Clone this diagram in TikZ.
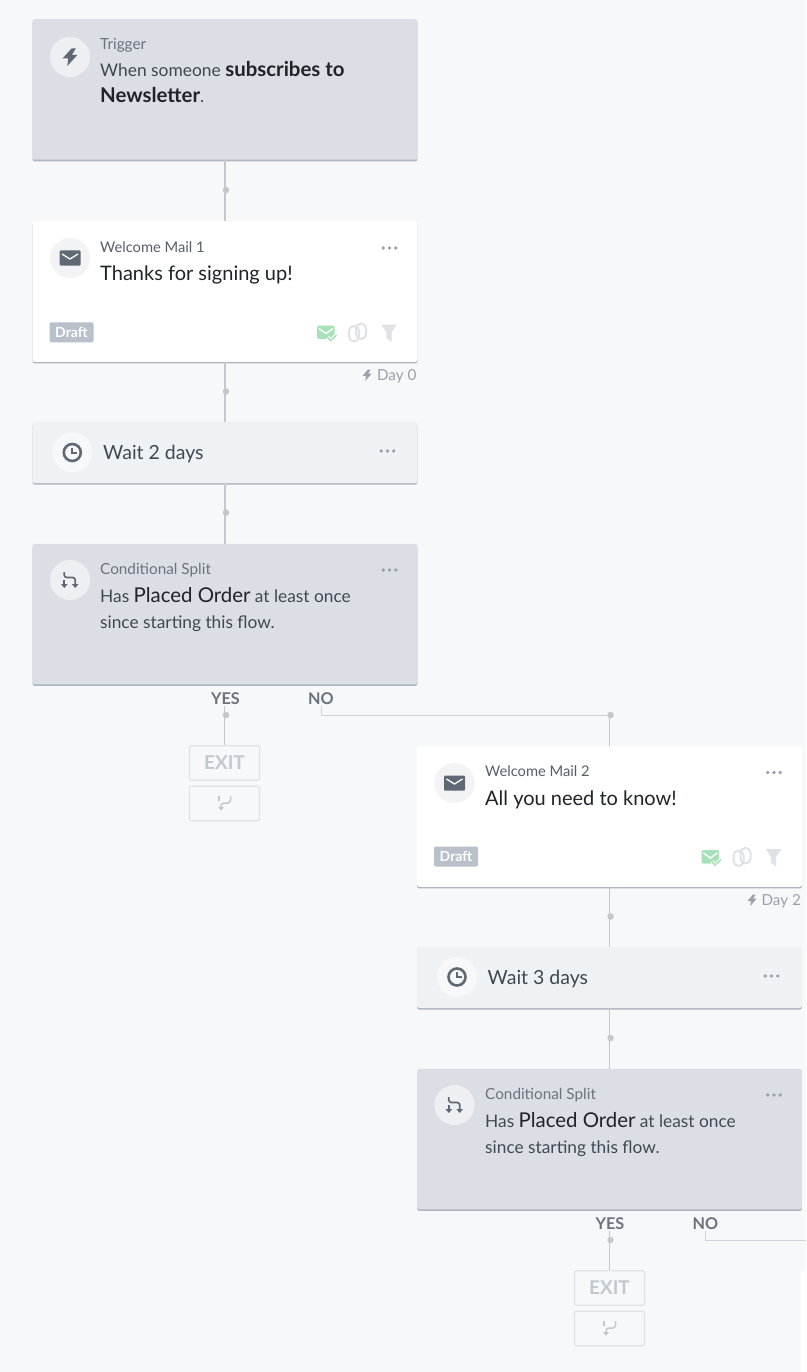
\documentclass[tikz,border=0pt]{standalone}
\usepackage{fontspec}
\setmainfont{Lato}
\usetikzlibrary{arrows.meta}
\usetikzlibrary{shadows}
\definecolor{pagebg}{HTML}{F7F8FA}
\definecolor{splitbg}{HTML}{DBDFE5}
\definecolor{waitbg}{HTML}{EEF2F4}
\definecolor{cardedge}{HTML}{AEB5BF}
\definecolor{linkgray}{HTML}{C3C8CF}
\definecolor{labelgray}{HTML}{6A737D}
\definecolor{mailgray}{HTML}{575F69}
\definecolor{bodygray}{HTML}{3F4851}
\definecolor{inkgray}{HTML}{1F2428}
\definecolor{icongray}{HTML}{5F6873}
\definecolor{dotgray}{HTML}{9AA1AA}
\definecolor{tintgray}{HTML}{DFE2E6}
\definecolor{exitgray}{HTML}{C2C8CF}
\definecolor{draftgray}{HTML}{B9C0C9}
\definecolor{okgreen}{HTML}{A6E1B7}
\newcommand{\boldpart}[1]{\textcolor{inkgray}{\bfseries\fontsize{20.4}{20}\selectfont #1}}
\newcommand{\orderpart}{\textcolor{inkgray}{\fontsize{20.4}{20}\selectfont Placed Order}}
\tikzset{
  card/.style={rounded corners=2pt,inner sep=0pt,minimum width=384.6pt,general shadow={shadow yshift=-1.6pt,fill=cardedge}},
  splitcard/.style={card,fill=splitbg,minimum height=140.5pt},
  mailcard/.style={card,fill=white,minimum height=140.5pt},
  waitcard/.style={card,fill=waitbg,minimum height=61pt},
  badge/.style={circle,inner sep=0pt,minimum size=40pt},
  flowdot/.style={circle,fill=linkgray,inner sep=0pt,minimum size=6.5pt},
  link/.style={draw=linkgray,line width=1.4pt},
  thinlink/.style={draw=linkgray!80,line width=1pt},
  smalltxt/.style={anchor=base west,inner sep=0pt,text=labelgray,font=\fontsize{15.3}{16}\selectfont},
  mailtxt/.style={anchor=base west,inner sep=0pt,text=mailgray,font=\fontsize{14.7}{16}\selectfont},
  bodytxt/.style={anchor=base west,inner sep=0pt,text=bodygray,font=\fontsize{17.4}{20}\selectfont},
  headtxt/.style={anchor=base west,inner sep=0pt,text=inkgray,font=\fontsize{20}{20}\selectfont},
  waittxt/.style={anchor=base west,inner sep=0pt,text=bodygray,font=\fontsize{19.5}{20}\selectfont},
  condtxt/.style={anchor=base west,inner sep=0pt,text=bodygray,font=\fontsize{17.3}{20}\selectfont},
  daytxt/.style={anchor=base east,inner sep=0pt,text=dotgray,font=\fontsize{15.2}{16}\selectfont},
  branchtxt/.style={inner sep=1pt,text=labelgray,font=\bfseries\fontsize{16.2}{18}\selectfont},
  draftbox/.style={fill=draftgray,text=white,rounded corners=2pt,inner sep=0pt,minimum width=44pt,minimum height=20pt,font=\bfseries\fontsize{14}{16}\selectfont},
  exitbox/.style={draw=tintgray,line width=1.2pt,rounded corners=2pt,inner sep=0pt,minimum width=70pt,minimum height=34.5pt,text=exitgray,font=\bfseries\fontsize{19}{20}\selectfont},
  pics/boltmark/.style={code={
    \fill[icongray] (1.7,-8.7) -- (-7.3,1.3) -- (-1.7,1.3) -- (-2.7,9) -- (7.3,-2) -- (1.7,-2) -- (6,-8.7) -- cycle;
  }},
  pics/daybolt/.style={code={
    \fill[dotgray] (1,-5.5) -- (-4.5,1) -- (-1,1) -- (-1.7,6) -- (4.5,-1.3) -- (1,-1.3) -- (3.7,-5.5) -- cycle;
  }},
  pics/mailmark/.style={code={
    \fill[icongray,rounded corners=1pt] (-10.5,-7.5) rectangle (10.5,7.5);
    \draw[white,line width=1.3pt] (-8,-4) -- (0,1) -- (8,-4);
  }},
  pics/clockmark/.style={code={
    \draw[icongray,line width=2.6pt] (0,0) circle (8.5pt);
    \draw[icongray,line width=2pt] (0,-5) -- (0,0) -- (5,0);
  }},
  pics/splitmark/.style={code={
    \draw[icongray,line width=1.7pt,-{Triangle[width=6.5pt,length=4pt]},rounded corners=2.5pt] (-5.7,-8) -- (-5.7,-2.5) -- (5.2,-2.5) -- (5.2,8);
    \draw[icongray,line width=1.7pt,-{Triangle[width=6.5pt,length=4pt]}] (-5.7,0) -- (-5.7,8);
  }},
  pics/returnmark/.style={code={
    \draw[exitgray,line width=1.5pt,-{Triangle[width=6pt,length=3.5pt]},rounded corners=3pt] (6,-7.5) -- (6,-0.5) -- (-3.5,-0.5) -- (-3.5,7);
    \draw[exitgray,line width=1.5pt] (-5.5,-7.5) -- (-5.5,-3);
  }},
  pics/okmailmark/.style={code={
    \fill[okgreen,rounded corners=1.5pt] (-9,-7.5) rectangle (8.7,6);
    \draw[white,line width=1.4pt] (-7,-4.5) -- (0,0.5) -- (7,-4.5);
    \draw[white,line width=3.6pt] (1.5,4) -- (4.5,7.5) -- (10.5,2);
    \draw[okgreen,line width=1.5pt] (1.5,4) -- (4.5,7.5) -- (10.5,2);
  }},
  pics/clipmark/.style={code={
    \draw[tintgray,line width=2pt,rounded corners=5pt] (-8.5,-6.5) rectangle (1.5,9);
    \draw[tintgray,line width=2pt,rounded corners=5pt] (-1.5,-9) rectangle (8.5,6.5);
  }},
  pics/funnelmark/.style={code={
    \fill[tintgray,rounded corners=.6pt] (-8,-8.5) -- (8,-8.5) -- (2.7,-1) -- (2.7,9) -- (-2.7,5) -- (-2.7,-1) -- cycle;
  }},
  pics/moredots/.style={code={
    \foreach \px in {-6.2,0,6.2} \fill[dotgray] (\px,0) circle (1.9pt);
  }},
}
\begin{document}
\begin{tikzpicture}[x=1pt,y=-1pt]
  \useasboundingbox (0,0) rectangle (806,1372);
  \fill[pagebg] (0,0) rectangle (806,1372);

  % first column
  \node[splitcard] (trigger) at (225,89.5) {};
  \node[mailcard] (mailone) at (225,291.5) {};
  \node[waitcard] (waitone) at (225,452.5) {};
  \node[splitcard] (splitone) at (225,614) {};

  \node[badge,fill=white!50!splitbg] (triggericon) at (70,57) {};
  \pic at (triggericon) {boltmark};
  \node[smalltxt] (triggerlabel) at (100,49.7) {Trigger};
  \node[bodytxt] (triggertext) at (100,76.7) {When someone \boldpart{subscribes to}};
  \node[bodytxt] (triggername) at (100,102.7) {\boldpart{Newsletter}.};

  \node[badge,fill=tintgray!40] (mailoneicon) at (70,258) {};
  \pic at (mailoneicon) {mailmark};
  \node[mailtxt] (mailonelabel) at (100,252) {Welcome Mail 1};
  \node[headtxt] (mailonetext) at (100,280.7) {Thanks for signing up!};
  \pic at (389.5,248) {moredots};
  \node[draftbox] (draftone) at (71.5,332.3) {Draft};
  \pic at (326,333) {okmailmark};
  \pic at (357.5,332.5) {clipmark};
  \pic at (389,333) {funnelmark};
  \pic at (367,375) {daybolt};
  \node[daytxt] (dayone) at (416.5,380) {Day 0};

  \node[badge,fill=white!50!waitbg] (waitoneicon) at (72.3,452.5) {};
  \pic at (waitoneicon) {clockmark};
  \node[waittxt] (waitonetext) at (103,459.5) {Wait 2 days};
  \pic at (387.5,451) {moredots};

  \node[badge,fill=white!50!splitbg] (splitoneicon) at (70,580) {};
  \pic at (splitoneicon) {splitmark};
  \node[smalltxt] (splitonelabel) at (100,574.5) {Conditional Split};
  \node[condtxt] (splitonetext) at (100,602.5) {Has \orderpart{} at least once};
  \node[condtxt] (splitonemore) at (100,628.5) {since starting this flow.};
  \pic at (389.5,570) {moredots};

  \node[branchtxt] (yesone) at (225.5,698.5) {YES};
  \node[branchtxt] (noone) at (321,698.5) {NO};
  \node[exitbox] (exitone) at (224.5,763) {EXIT};
  \node[exitbox] (backone) at (224.5,803.5) {};
  \pic at (backone) {returnmark};

  % second column
  \node[mailcard] (mailtwo) at (609.5,816.5) {};
  \node[waitcard] (waittwo) at (609.5,977.5) {};
  \node[splitcard] (splittwo) at (609.5,1139) {};

  \node[badge,fill=tintgray!40] (mailtwoicon) at (454.5,783) {};
  \pic at (mailtwoicon) {mailmark};
  \node[mailtxt] (mailtwolabel) at (485,776) {Welcome Mail 2};
  \node[headtxt] (mailtwotext) at (485,805.5) {All you need to know!};
  \pic at (774,772.5) {moredots};
  \node[draftbox] (drafttwo) at (456,856.5) {Draft};
  \pic at (710.5,857.5) {okmailmark};
  \pic at (742,857) {clipmark};
  \pic at (773.5,857.5) {funnelmark};
  \pic at (752,900) {daybolt};
  \node[daytxt] (daytwo) at (801,905) {Day 2};

  \node[badge,fill=white!50!waitbg] (waittwoicon) at (457,977) {};
  \pic at (waittwoicon) {clockmark};
  \node[waittxt] (waittwotext) at (487.5,984.5) {Wait 3 days};
  \pic at (771.5,976) {moredots};

  \node[badge,fill=white!50!splitbg] (splittwoicon) at (454.5,1105) {};
  \pic at (splittwoicon) {splitmark};
  \node[smalltxt] (splittwolabel) at (485,1099.5) {Conditional Split};
  \node[condtxt] (splittwotext) at (485,1127.5) {Has \orderpart{} at least once};
  \node[condtxt] (splittwomore) at (485,1153.5) {since starting this flow.};
  \pic at (774,1095) {moredots};

  \node[branchtxt] (yestwo) at (610,1223.5) {YES};
  \node[branchtxt] (notwo) at (705.5,1223.5) {NO};
  \node[exitbox] (exittwo) at (609.5,1288) {EXIT};
  \node[exitbox] (backtwo) at (609.5,1328.5) {};
  \pic at (backtwo) {returnmark};

  % next card, cut off by the page
  \fill[white] (801,1271) rectangle (806,1372);
  \coordinate (noend) at (806,1240);

  % connectors
  \node[flowdot] (dotone) at (226,190) {};
  \node[flowdot] (dottwo) at (226,391.5) {};
  \node[flowdot] (dotthree) at (226,512.5) {};
  \node[flowdot] (dotyesone) at (226,715) {};
  \node[flowdot] (dotnoone) at (610.5,715) {};
  \node[flowdot] (dotfour) at (610.5,916.5) {};
  \node[flowdot] (dotfive) at (610.5,1038) {};
  \node[flowdot] (dotyestwo) at (610.5,1240) {};

  \draw[link] (trigger.south) -- (mailone.north);
  \draw[link] (mailone.south) -- (waitone.north);
  \draw[link] (waitone.south) -- (splitone.north);
  \draw[link] (yesone.south -| exitone.north) -- (exitone.north);
  \draw[thinlink] (noone.south) |- (dotnoone);
  \draw[link] (dotnoone -| mailtwo.north) -- (mailtwo.north);
  \draw[link] (mailtwo.south) -- (waittwo.north);
  \draw[link] (waittwo.south) -- (splittwo.north);
  \draw[link] (yestwo.south -| exittwo.north) -- (exittwo.north);
  \draw[thinlink] (notwo.south) |- (noend);
\end{tikzpicture}
\end{document}
